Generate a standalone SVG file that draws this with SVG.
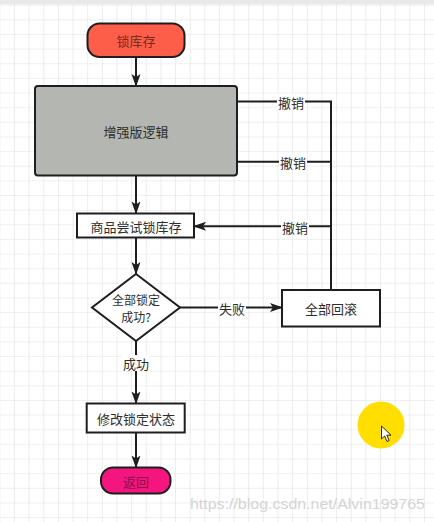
<svg xmlns="http://www.w3.org/2000/svg" width="434" height="522" viewBox="0 0 434 522">
  <defs>
    <pattern id="grid" x="14" y="4.7" width="14.64" height="14.64" patternUnits="userSpaceOnUse">
      <path d="M0,0 H14.64 M0,0 V14.64" fill="none" stroke="#e0e1e0" stroke-width="1.2"/>
    </pattern>
    <marker id="arr" viewBox="0 0 13 10" refX="12" refY="5" markerWidth="13" markerHeight="10" markerUnits="userSpaceOnUse" orient="auto">
      <path d="M0,0.5 L13,5 L0,9.5 L3,5 Z" fill="#1e1e1e"/>
    </marker>
    <style>
      .nd { stroke: #1e1e1e; stroke-width: 2; }
      .tx { font-family: "Noto Sans CJK SC", "Noto Sans", sans-serif; font-size: 13px; fill: #2e2e2e; text-anchor: middle; dominant-baseline: central; }
      .sm { font-size: 12px; }
      .ln { fill: none; stroke: #1e1e1e; stroke-width: 2; }
      .lb { fill: #ffffff; }
    </style>
  </defs>
  <rect width="434" height="522" fill="#ffffff"/>
  <rect width="434" height="522" fill="url(#grid)"/>
  <rect width="434" height="4.5" fill="#e8eae8"/>

  <g id="connectors">
    <line class="ln" x1="136" y1="57" x2="136" y2="86" marker-end="url(#arr)"/>
    <line class="ln" x1="136" y1="175.5" x2="136" y2="213.5" marker-end="url(#arr)"/>
    <line class="ln" x1="136" y1="237.5" x2="136" y2="274" marker-end="url(#arr)"/>
    <line class="ln" x1="180" y1="307.5" x2="282" y2="307.5" marker-end="url(#arr)"/>
    <line class="ln" x1="136" y1="341" x2="136" y2="403.5" marker-end="url(#arr)"/>
    <line class="ln" x1="136" y1="432.5" x2="136" y2="467.5" marker-end="url(#arr)"/>
    <path class="ln" d="M331,290 V101.5 H237"/>
    <path class="ln" d="M331,161.8 H237"/>
    <path class="ln" d="M331,226.3 H194" marker-end="url(#arr)"/>
    <rect class="lb" x="218" y="300" width="28" height="16"/>
    <text class="tx" x="232" y="308.5">失败</text>
    <rect class="lb" x="122" y="355" width="28" height="16"/>
    <text class="tx" x="136" y="363">成功</text>
    <rect class="lb" x="277" y="94" width="28" height="15"/>
    <text class="tx" x="291" y="102">撤销</text>
    <rect class="lb" x="279" y="154.5" width="28" height="15"/>
    <text class="tx" x="293" y="162">撤销</text>
    <rect class="lb" x="281" y="219" width="28" height="15"/>
    <text class="tx" x="295" y="227">撤销</text>
  </g>

  <g id="node-lock">
    <rect class="nd" x="87.5" y="23.5" width="97" height="33.5" rx="12" fill="#fd5e49"/>
    <text class="tx" x="136" y="40.5" style="fill:#7b2a1f">锁库存</text>
  </g>
  <g id="node-enhanced">
    <rect class="nd" x="35" y="86" width="202" height="89.5" rx="3" fill="#b4b6b1"/>
    <text class="tx" x="136" y="131.5">增强版逻辑</text>
  </g>
  <g id="node-try">
    <rect class="nd" x="77" y="213.5" width="117" height="24" fill="#ffffff"/>
    <text class="tx" x="136" y="226">商品尝试锁库存</text>
  </g>
  <g id="node-decision">
    <polygon class="nd" points="136,274 180,307.5 136,341 92,307.5" fill="#ffffff"/>
    <text class="tx sm" x="136" y="299">全部锁定</text>
    <text class="tx sm" x="136" y="316.5">成功?</text>
  </g>
  <g id="node-rollback">
    <rect class="nd" x="282" y="290" width="98" height="36.5" fill="#ffffff"/>
    <text class="tx" x="331" y="308.5">全部回滚</text>
  </g>
  <g id="node-modify">
    <rect class="nd" x="86.7" y="403.5" width="98" height="29" fill="#ffffff"/>
    <text class="tx" x="136" y="418.5">修改锁定状态</text>
  </g>
  <g id="node-return">
    <rect class="nd" x="101" y="467.5" width="69.5" height="26" rx="12" fill="#f4157f"/>
    <text class="tx" x="136" y="481" style="fill:#8e1148">返回</text>
  </g>

  <g id="overlay">
    <circle cx="381" cy="425" r="23.5" fill="#ffde00"/>
    <path d="M381.5,426 V439 L384.6,436 L387,441.5 L389.2,440.5 L386.8,435.2 L391,435.2 Z" fill="#ffffff" stroke="#111111" stroke-width="0.9" stroke-linejoin="round"/>
    <text x="190" y="509" font-family="'Liberation Sans', Arial, sans-serif" font-size="15" fill="#d4d4d4" textLength="235" lengthAdjust="spacingAndGlyphs">https://blog.csdn.net/Alvin199765</text>
  </g>
</svg>
